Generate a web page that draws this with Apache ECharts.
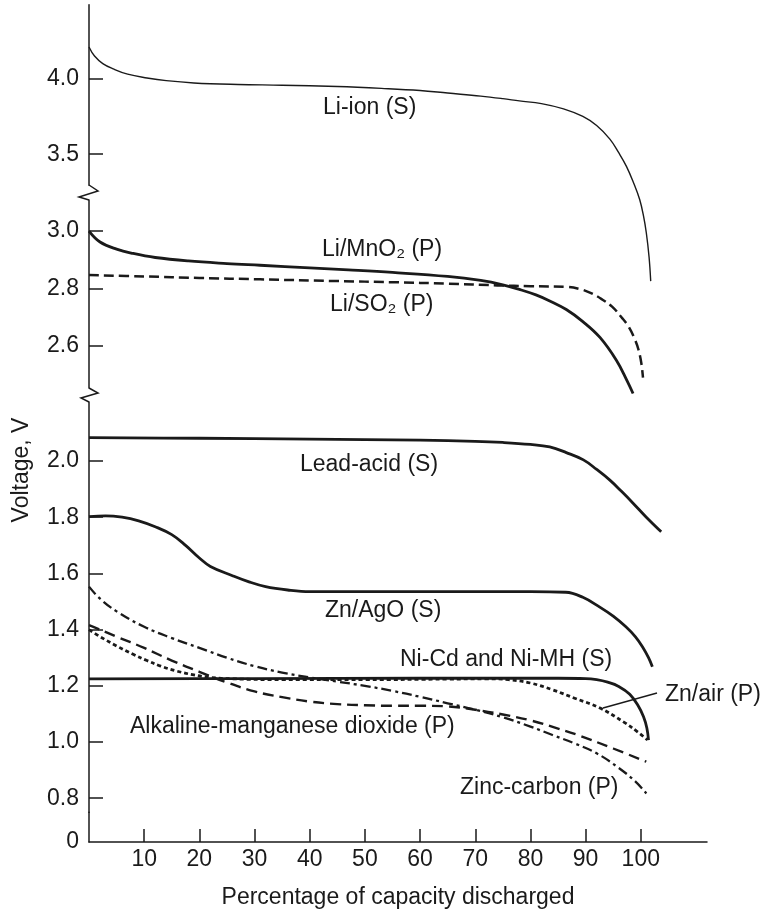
<!DOCTYPE html>
<html>
<head>
<meta charset="utf-8">
<script src="https://cdn.jsdelivr.net/npm/echarts@6/dist/echarts.min.js"></script>
<style>
html, body { margin: 0; padding: 0; background: #fff; }
#chart { width: 763px; height: 910px; }
</style>
</head>
<body>
<div id="chart"></div>
<script>
// discharge curves: [percentage of capacity discharged, voltage]
var liIon = [[0,4.21],[1,4.15],[2.5,4.10],[4.4,4.065],[7,4.03],[10.5,4.005],[14,3.987],[19,3.972],[27,3.962],[35,3.957],[45,3.948],[53,3.936],[60,3.922],[65,3.905],[71,3.885],[75,3.868],[78,3.853],[82,3.835],[86,3.80],[89.5,3.75],[92,3.69],[94.4,3.60],[96,3.51],[97.4,3.42],[98.7,3.31],[99.8,3.2],[100.5,3.09],[101,2.98],[101.5,2.82],[101.8,2.66]];
var liMnO2 = [[0,3.0],[2,2.962],[5,2.937],[8,2.922],[12,2.908],[18,2.896],[25,2.887],[31,2.881],[40,2.872],[47,2.865],[55,2.856],[65,2.842],[71,2.828],[75,2.813],[78,2.797],[81,2.778],[83.5,2.757],[86.5,2.727],[89.5,2.685],[92.6,2.63],[95.6,2.55],[97.5,2.48],[98.6,2.435]];
var liSO2 = [[0,2.847],[10,2.842],[20,2.837],[31,2.832],[45,2.826],[55,2.822],[65,2.817],[74,2.811],[80,2.808],[86.5,2.806],[89,2.798],[91.2,2.782],[93,2.762],[94.8,2.737],[96.5,2.70],[97.8,2.667],[99,2.62],[99.6,2.586],[100.1,2.54],[100.4,2.49]];
var leadAcid = [[0,2.083],[20,2.081],[40,2.078],[60,2.074],[70,2.07],[75,2.066],[80,2.059],[83.5,2.05],[86.5,2.03],[89.6,2.004],[92,1.97],[94.4,1.932],[96.5,1.892],[98.6,1.85],[101,1.80],[103.7,1.748]];
var znAgO = [[0,1.802],[3,1.805],[6,1.80],[9,1.787],[12,1.766],[15,1.738],[17.5,1.70],[20,1.655],[22,1.625],[26,1.592],[29,1.57],[32,1.553],[36,1.541],[40,1.535],[60,1.535],[80,1.535],[86.4,1.533],[89.5,1.515],[92.5,1.481],[95,1.448],[97.3,1.41],[99,1.375],[100.3,1.339],[101.4,1.30],[102.1,1.268]];
var niCd = [[0,1.225],[30,1.226],[60,1.227],[85,1.227],[90,1.226],[92,1.222],[94,1.213],[96,1.198],[98,1.17],[99.5,1.13],[100.5,1.09],[101.1,1.05],[101.4,1.007]];
var znAir = [[0,1.40],[2,1.375],[5,1.342],[8,1.312],[10.5,1.29],[13,1.27],[16,1.252],[19,1.239],[22,1.23],[26,1.225],[35,1.222],[50,1.222],[65,1.224],[72,1.225],[76,1.222],[80,1.21],[84,1.186],[88,1.156],[92.5,1.122],[97,1.07],[99.5,1.035],[101.2,1.007]];
var alkaline = [[0,1.416],[2,1.40],[5,1.375],[10,1.335],[15,1.29],[20,1.25],[25,1.212],[30,1.18],[35,1.16],[40,1.144],[45,1.135],[50,1.131],[55,1.129],[60,1.129],[65,1.127],[70,1.115],[75,1.098],[80,1.077],[85,1.048],[89,1.022],[95,0.977],[101,0.93]];
var zincCarbon = [[0,1.553],[2,1.51],[5,1.465],[10,1.41],[15,1.37],[20,1.335],[25,1.30],[30,1.27],[35,1.247],[40,1.23],[45,1.215],[50,1.20],[55,1.182],[60,1.161],[65,1.138],[70,1.115],[75,1.088],[80,1.055],[84,1.025],[88,0.995],[92,0.96],[96,0.908],[99,0.86],[101,0.817]];

var xTicks = [10, 20, 30, 40, 50, 60, 70, 80, 90, 100];
var upperTicks = [3.5, 4.0];
var middleTicks = [2.6, 2.8, 3.0];
var lowerTicks = [0.8, 1.0, 1.2, 1.4, 1.6, 1.8, 2.0];
var bottomTicks = [0];

var INK = '#1a1a1a';
var FONT = '"Liberation Sans", Arial, sans-serif';
var FS = 23;

var chart = echarts.init(document.getElementById('chart'), null, {renderer: 'canvas'});

function yAx(grid, min, max, ticks, showTick) {
    return {
        type: 'value', gridIndex: grid, min: min, max: max,
        axisLine: {show: true, lineStyle: {color: INK, width: 1.5}},
        axisTick: {show: showTick, inside: true, length: 14, customValues: ticks, lineStyle: {color: INK, width: 1.5}},
        axisLabel: {
            customValues: ticks, showMinLabel: true, showMaxLabel: true,
            color: INK, fontSize: FS, fontFamily: FONT, margin: 10,
            formatter: function (v) { return v === 0 ? '0' : v.toFixed(1); }
        },
        splitLine: {show: false}
    };
}

function xAx(grid, visible) {
    return {
        type: 'value', gridIndex: grid, min: 0, max: 112, show: visible,
        axisLine: {show: true, onZero: false, lineStyle: {color: INK, width: 1.5}},
        axisTick: {show: true, inside: true, length: 13, customValues: xTicks, lineStyle: {color: INK, width: 1.5}},
        axisLabel: {customValues: xTicks, color: INK, fontSize: FS, fontFamily: FONT, margin: 6},
        splitLine: {show: false},
        name: visible ? 'Percentage of capacity discharged' : '',
        nameLocation: 'middle', nameGap: 44,
        nameTextStyle: {color: INK, fontSize: FS, fontFamily: FONT}
    };
}

function curve(name, data, grid, width, dash) {
    return {
        name: name, type: 'line', data: data,
        xAxisIndex: grid, yAxisIndex: grid,
        showSymbol: false, smooth: 0.4, clip: false,
        lineStyle: {color: INK, width: width, type: dash || 'solid', cap: 'butt', join: 'round'},
        silent: true, animation: false
    };
}

function label(text, x, y) {
    return {type: 'text', x: x, y: y, silent: true,
        style: {text: text, fill: INK, fontSize: FS, fontFamily: FONT, align: 'left', verticalAlign: 'middle'}};
}

var option = {
    animation: false,
    grid: [
        {left: 89, width: 618, top: 4.7, height: 180.5},
        {left: 89, width: 618, top: 200, height: 188},
        {left: 89, width: 618, top: 402, height: 410.3},
        {left: 89, width: 618, top: 812.3, height: 38.4}
    ],
    xAxis: [xAx(0, false), xAx(1, false), xAx(2, false), xAx(3, true)],
    yAxis: [
        yAx(0, 3.295, 4.49, upperTicks, true),
        yAx(1, 2.454, 3.108, middleTicks, true),
        yAx(2, 0.75, 2.21, lowerTicks, true),
        yAx(3, 0, 0.1, bottomTicks, false)
    ],
    series: [
        curve('Li-ion (S)', liIon, 0, 1.4),
        curve('Li/MnO2 (P)', liMnO2, 1, 2.8),
        curve('Li/SO2 (P)', liSO2, 1, 2.5, [10, 5]),
        curve('Lead-acid (S)', leadAcid, 2, 2.8),
        curve('Zn/AgO (S)', znAgO, 2, 2.8),
        curve('Ni-Cd and Ni-MH (S)', niCd, 2, 2.8),
        curve('Zn/air (P)', znAir, 2, 2.8, [4, 3]),
        curve('Alkaline-manganese dioxide (P)', alkaline, 2, 2.4, [11, 6]),
        curve('Zinc-carbon (P)', zincCarbon, 2, 2.3, [10, 4, 3, 4])
    ],
    graphic: [
        // axis break marks
        {type: 'polyline', silent: true, shape: {points: [[89, 185], [98, 191], [79, 197], [89, 200]]},
            style: {stroke: INK, lineWidth: 1.5, fill: null}},
        {type: 'polyline', silent: true, shape: {points: [[89, 388], [98, 393], [81, 398], [89, 402]]},
            style: {stroke: INK, lineWidth: 1.5, fill: null}},
        // Zn/air leader line
        {type: 'line', silent: true, shape: {x1: 603, y1: 708, x2: 657, y2: 693},
            style: {stroke: INK, lineWidth: 1.3}},
        label('Li-ion (S)', 323, 108),
        label('Li/MnO\u2082 (P)', 322, 250),
        label('Li/SO\u2082 (P)', 330, 305),
        label('Lead-acid (S)', 300, 465),
        label('Zn/AgO (S)', 325, 611),
        label('Ni-Cd and Ni-MH (S)', 400, 660),
        label('Alkaline-manganese dioxide (P)', 130, 727),
        label('Zinc-carbon (P)', 460, 788),
        label('Zn/air (P)', 665, 695),
        {type: 'text', x: 22, y: 470, rotation: Math.PI / 2, silent: true,
            style: {text: 'Voltage, V', fill: INK, fontSize: FS, fontFamily: FONT, align: 'center', verticalAlign: 'middle'}}
    ]
};

chart.setOption(option);
</script>
</body>
</html>
